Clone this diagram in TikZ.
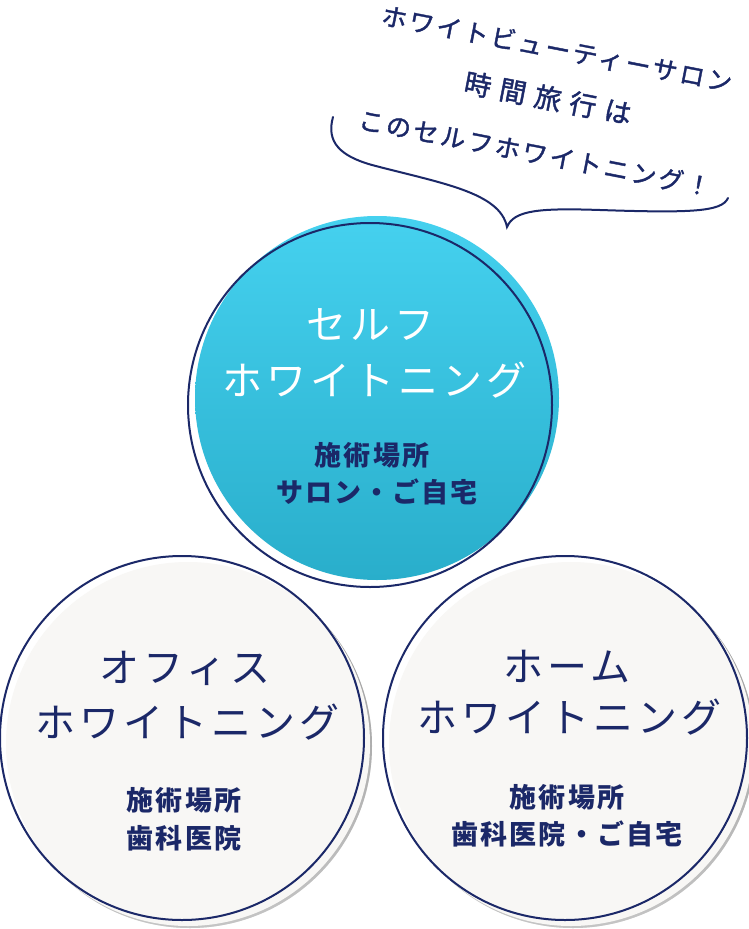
\documentclass[tikz,border=0pt]{standalone}
\usepackage{fontspec}
\newfontfamily\jp{Noto Sans CJK JP}
\newfontfamily\jpwide[LetterSpace=10]{Noto Sans CJK JP}
\newfontfamily\jpplace[LetterSpace=8]{Noto Sans CJK JP}
\newfontfamily\jphand[LetterSpace=11,FakeBold=1.5]{Noto Sans CJK JP}
\newfontfamily\jphandwide[LetterSpace=32,FakeBold=1.5]{Noto Sans CJK JP}
\definecolor{navy}{HTML}{1B2868}
\definecolor{cyantop}{HTML}{45D1EF}
\definecolor{cyanbot}{HTML}{29AECB}
\definecolor{paper}{HTML}{F8F7F5}
\definecolor{shade}{HTML}{F1F0EE}

\begin{document}
\begin{tikzpicture}[x=1pt,y=-1pt,
  ring/.style={circle,draw=navy,line width=2pt,minimum size=364pt,inner sep=0pt},
  disc/.style={circle,minimum size=364pt,inner sep=0pt},
  title/.style={font=\jpwide\fontsize{40}{40}\selectfont,text=navy},
  place/.style={font=\jpplace\bfseries\fontsize{27}{27}\selectfont,text=navy},
  hand/.style={font=\jphand\fontsize{25}{25}\selectfont,text=navy,rotate=-11,inner sep=0pt}]
  \useasboundingbox[fill=white] (0,0) rectangle (748,929);

  % speech bubble
  \node[hand] (say1) at (557,49) {ホワイトビューティーサロン};
  \node[hand,font=\jphandwide\fontsize{27}{27}\selectfont] (say2) at (548,98) {時間旅行は};
  \node[hand] (say3) at (535,153) {このセルフホワイトニング！};
  \draw[navy,line width=2pt,line cap=round]
    (333,117) .. controls (326,142) and (340,156) .. (372,165)
    .. controls (440,183) and (500,192) .. (507,227)
    .. controls (514,210) and (540,208) .. (600,210)
    .. controls (690,213) and (722,212) .. (728,198);

  % self whitening
  \node[disc,top color=cyantop,bottom color=cyanbot] (selfdisc) at (377,398) {};
  \node[ring] (self) at (370,405) {};
  \node[title,text=white] (selft1) at (370,325) {セルフ};
  \node[title,text=white] (selft2) at (374,380) {ホワイトニング};
  \node[place] (selfp1) at (372,455) {施術場所};
  \node[place] (selfp2) at (377,492) {サロン・ご自宅};

  % office and home
  \foreach \cx/\nm in {182/office,565/home}{
    \fill[shade,opacity=0.35] (\cx+8,746) circle[radius=182];
    \node[disc,fill=paper] (\nm disc) at (\cx+6,744) {};
    \node[ring] (\nm) at (\cx,738) {};
  }
  \node[title] (officet1) at (185,668) {オフィス};
  \node[title] (officet2) at (187,722) {ホワイトニング};
  \node[place] (officep1) at (184,800) {施術場所};
  \node[place] (officep2) at (184,838) {歯科医院};

  \node[title] (homet1) at (567,666) {ホーム};
  \node[title] (homet2) at (569,717) {ホワイトニング};
  \node[place] (homep1) at (567,797) {施術場所};
  \node[place] (homep2) at (567,834) {歯科医院・ご自宅};
\end{tikzpicture}
\end{document}
